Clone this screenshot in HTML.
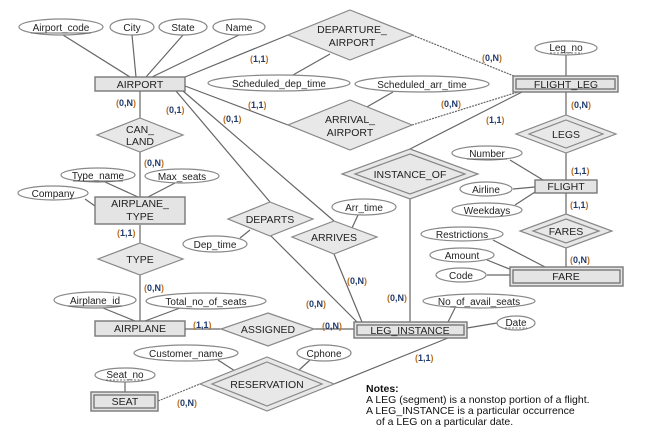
<!DOCTYPE html>
<html><head><meta charset="utf-8"><style>
html,body{margin:0;padding:0;background:#fff;}
svg{display:block;}
text{font-family:"Liberation Sans",Arial,sans-serif;}
.e{fill:#fff;stroke:#888;stroke-width:1.2}
.r{fill:#e4e4e4;stroke:#777;stroke-width:1.4}
.d{fill:#e8e8e8;stroke:#888;stroke-width:1.2}
.l{stroke:#666;stroke-width:1.2;fill:none}
.u{stroke:#444;stroke-width:0.8}
.t{font-size:10.5px;fill:#222;text-anchor:middle}
.at{font-size:10px;fill:#222;text-anchor:middle}
.c{font-size:9px;fill:#1f3a6e;font-weight:bold}
.c tspan{fill:#c07020}
.n{font-size:10.5px;fill:#111}
</style></head><body>
<svg width="660" height="442" viewBox="0 0 660 442" xmlns="http://www.w3.org/2000/svg">
<g class="l">
<line x1="63" y1="35" x2="130" y2="77"/>
<line x1="132" y1="35" x2="136" y2="77"/>
<line x1="183" y1="35" x2="146" y2="77"/>
<line x1="239" y1="35" x2="152" y2="77"/>
<line x1="185" y1="77" x2="288" y2="35"/>
<line x1="412" y1="35" x2="514" y2="76" stroke-dasharray="2,1"/>
<line x1="293" y1="75" x2="330" y2="54"/>
<line x1="566" y1="55" x2="566" y2="76"/>
<line x1="393" y1="92" x2="365" y2="108"/>
<line x1="412" y1="125" x2="518" y2="92" stroke-dasharray="2,1"/>
<line x1="185" y1="86" x2="288" y2="125"/>
<line x1="140" y1="91" x2="140" y2="197"/>
<line x1="105" y1="182" x2="138" y2="197"/>
<line x1="175" y1="183" x2="148" y2="197"/>
<line x1="85" y1="199" x2="95" y2="206"/>
<line x1="140" y1="225" x2="140" y2="321"/>
<line x1="103" y1="308" x2="135" y2="321"/>
<line x1="180" y1="308" x2="145" y2="321"/>
<line x1="185" y1="329" x2="221" y2="329"/>
<line x1="314" y1="329" x2="355" y2="329"/>
<line x1="218" y1="360" x2="235" y2="371"/>
<line x1="310" y1="360" x2="298" y2="371"/>
<line x1="125" y1="382" x2="125" y2="392"/>
<line x1="158" y1="401" x2="200" y2="384" stroke-dasharray="2,1"/>
<line x1="448" y1="338" x2="334" y2="384"/>
<line x1="455" y1="308" x2="448" y2="322"/>
<line x1="467" y1="328" x2="497" y2="323"/>
<line x1="493" y1="240" x2="545" y2="267"/>
<line x1="487" y1="260" x2="512" y2="270"/>
<line x1="487" y1="275" x2="510" y2="275"/>
<line x1="566" y1="92" x2="566" y2="267"/>
<line x1="510" y1="160" x2="543" y2="180"/>
<line x1="513" y1="189" x2="535" y2="187"/>
<line x1="515" y1="205" x2="535" y2="192"/>
<line x1="522" y1="92" x2="410" y2="149"/>
<line x1="410" y1="199" x2="410" y2="322"/>
<line x1="240" y1="238" x2="250" y2="230"/>
<line x1="176" y1="91" x2="270" y2="202"/>
<line x1="271" y1="236" x2="357" y2="322"/>
<line x1="183" y1="91" x2="334" y2="221"/>
<line x1="358" y1="215" x2="352" y2="228"/>
<line x1="334" y1="254" x2="362" y2="322"/>
</g>
<ellipse class="e" cx="61" cy="27" rx="42" ry="8"/><text class="at" x="61" y="31">Airport_code</text><line class="u" x1="31" y1="33" x2="91" y2="33"/>
<ellipse class="e" cx="132" cy="27" rx="22" ry="8"/><text class="at" x="132" y="31">City</text>
<ellipse class="e" cx="183" cy="27" rx="24" ry="8"/><text class="at" x="183" y="31">State</text>
<ellipse class="e" cx="239" cy="27" rx="26" ry="8"/><text class="at" x="239" y="31">Name</text>
<ellipse class="e" cx="279" cy="83" rx="71" ry="8"/><text class="at" x="279" y="87">Scheduled_dep_time</text>
<ellipse class="e" cx="422" cy="84" rx="67" ry="8"/><text class="at" x="422" y="88">Scheduled_arr_time</text>
<ellipse class="e" cx="566" cy="48" rx="31" ry="7"/><text class="at" x="566" y="51">Leg_no</text><line class="u" x1="550" y1="53" x2="582" y2="53" stroke-dasharray="2,1.5"/>
<ellipse class="e" cx="98" cy="175" rx="37" ry="7"/><text class="at" x="98" y="179">Type_name</text><line class="u" x1="73" y1="181" x2="123" y2="181"/>
<ellipse class="e" cx="182" cy="176" rx="37" ry="7"/><text class="at" x="182" y="180">Max_seats</text>
<ellipse class="e" cx="53" cy="193" rx="35" ry="7"/><text class="at" x="53" y="197">Company</text>
<ellipse class="e" cx="95" cy="300" rx="41" ry="8"/><text class="at" x="95" y="304">Airplane_id</text><line class="u" x1="68" y1="306" x2="122" y2="306"/>
<ellipse class="e" cx="206" cy="301" rx="60" ry="8"/><text class="at" x="206" y="305">Total_no_of_seats</text>
<ellipse class="e" cx="186" cy="353" rx="52" ry="8"/><text class="at" x="186" y="357">Customer_name</text>
<ellipse class="e" cx="324" cy="353" rx="27" ry="8"/><text class="at" x="324" y="357">Cphone</text>
<ellipse class="e" cx="125" cy="375" rx="30" ry="7"/><text class="at" x="125" y="378">Seat_no</text><line class="u" x1="106" y1="380" x2="144" y2="380" stroke-dasharray="2,1.5"/>
<ellipse class="e" cx="479" cy="301" rx="56" ry="7"/><text class="at" x="479" y="305">No_of_avail_seats</text>
<ellipse class="e" cx="516" cy="323" rx="19" ry="7"/><text class="at" x="516" y="326">Date</text><line class="u" x1="505" y1="328" x2="527" y2="328" stroke-dasharray="2,1.5"/>
<ellipse class="e" cx="462" cy="234" rx="41" ry="7"/><text class="at" x="462" y="238">Restrictions</text>
<ellipse class="e" cx="462" cy="255" rx="32" ry="7"/><text class="at" x="462" y="259">Amount</text>
<ellipse class="e" cx="461" cy="275" rx="25" ry="7"/><text class="at" x="461" y="279">Code</text>
<ellipse class="e" cx="487" cy="153" rx="35" ry="7"/><text class="at" x="487" y="157">Number</text><line class="u" x1="467" y1="159" x2="507" y2="159"/>
<ellipse class="e" cx="486" cy="189" rx="26" ry="7"/><text class="at" x="486" y="193">Airline</text>
<ellipse class="e" cx="487" cy="210" rx="35" ry="7"/><text class="at" x="487" y="214">Weekdays</text>
<ellipse class="e" cx="215" cy="244" rx="32" ry="8"/><text class="at" x="215" y="248">Dep_time</text>
<ellipse class="e" cx="364" cy="207" rx="32" ry="8"/><text class="at" x="364" y="211">Arr_time</text>
<polygon class="d" points="350,10 413,35 350,60 288,35"/><text class="t" x="352" y="33">DEPARTURE_</text><text class="t" x="352" y="46">AIRPORT</text>
<polygon class="d" points="350,100 412,125 350,150 288,125"/><text class="t" x="350" y="123">ARRIVAL_</text><text class="t" x="350" y="136">AIRPORT</text>
<polygon class="d" points="140,118 183,135 140,152 97,135"/><text class="t" x="140" y="133">CAN_</text><text class="t" x="140" y="145">LAND</text>
<polygon class="d" points="140,243 183,259 140,275 98,259"/><text class="t" x="140" y="263">TYPE</text>
<polygon class="d" points="268,313 314,329 268,346 221,329"/><text class="t" x="268" y="333">ASSIGNED</text>
<polygon class="d" points="270,202 313,219 270,236 228,219"/><text class="t" x="270" y="223">DEPARTS</text>
<polygon class="d" points="334,221 377,237 334,254 292,237"/><text class="t" x="334" y="241">ARRIVES</text>
<polygon class="d" points="267,357 334,384 267,411 200,384"/><polygon class="d" points="267,362 322,384 267,406 212,384"/><text class="t" x="267" y="388">RESERVATION</text>
<polygon class="d" points="410,149 478,174 410,199 342,174"/><polygon class="d" points="410,154 465,174 410,194 355,174"/><text class="t" x="410" y="178">INSTANCE_OF</text>
<polygon class="d" points="566,115 616,134 566,153 516,134"/><polygon class="d" points="566,120 603,134 566,148 529,134"/><text class="t" x="566" y="138">LEGS</text>
<polygon class="d" points="566,214 612,231 566,248 520,231"/><polygon class="d" points="566,219 599,231 566,243 533,231"/><text class="t" x="566" y="235">FARES</text>
<rect class="r" x="95" y="77" width="90" height="14"/><text class="t" x="140" y="88">AIRPORT</text>
<rect class="r" x="95" y="197" width="90" height="27"/><text class="t" x="140" y="207">AIRPLANE_</text><text class="t" x="140" y="220">TYPE</text>
<rect class="r" x="95" y="321" width="90" height="15"/><text class="t" x="140" y="332">AIRPLANE</text>
<rect class="r" x="535" y="180" width="62" height="13"/><text class="t" x="566" y="190">FLIGHT</text>
<rect class="r" x="513" y="76" width="105" height="16"/><rect class="r" x="516" y="79" width="99" height="10"/><text class="t" x="566" y="88">FLIGHT_LEG</text>
<rect class="r" x="354" y="322" width="113" height="16"/><rect class="r" x="357" y="325" width="107" height="10"/><text class="t" x="410" y="334">LEG_INSTANCE</text>
<rect class="r" x="510" y="267" width="113" height="19"/><rect class="r" x="513" y="270" width="107" height="13"/><text class="t" x="566" y="280">FARE</text>
<rect class="r" x="91" y="392" width="67" height="19"/><rect class="r" x="94" y="395" width="61" height="13"/><text class="t" x="125" y="405">SEAT</text>
<text class="c" x="250" y="62"><tspan>(</tspan>1,1<tspan>)</tspan></text>
<text class="c" x="482" y="61"><tspan>(</tspan>0,N<tspan>)</tspan></text>
<text class="c" x="248" y="108"><tspan>(</tspan>1,1<tspan>)</tspan></text>
<text class="c" x="441" y="107"><tspan>(</tspan>0,N<tspan>)</tspan></text>
<text class="c" x="116" y="106"><tspan>(</tspan>0,N<tspan>)</tspan></text>
<text class="c" x="166" y="113"><tspan>(</tspan>0,1<tspan>)</tspan></text>
<text class="c" x="223" y="122"><tspan>(</tspan>0,1<tspan>)</tspan></text>
<text class="c" x="144" y="166"><tspan>(</tspan>0,N<tspan>)</tspan></text>
<text class="c" x="117" y="236"><tspan>(</tspan>1,1<tspan>)</tspan></text>
<text class="c" x="144" y="291"><tspan>(</tspan>0,N<tspan>)</tspan></text>
<text class="c" x="193" y="328"><tspan>(</tspan>1,1<tspan>)</tspan></text>
<text class="c" x="322" y="329"><tspan>(</tspan>0,N<tspan>)</tspan></text>
<text class="c" x="306" y="307"><tspan>(</tspan>0,N<tspan>)</tspan></text>
<text class="c" x="347" y="284"><tspan>(</tspan>0,N<tspan>)</tspan></text>
<text class="c" x="387" y="301"><tspan>(</tspan>0,N<tspan>)</tspan></text>
<text class="c" x="415" y="361"><tspan>(</tspan>1,1<tspan>)</tspan></text>
<text class="c" x="177" y="406"><tspan>(</tspan>0,N<tspan>)</tspan></text>
<text class="c" x="571" y="108"><tspan>(</tspan>0,N<tspan>)</tspan></text>
<text class="c" x="486" y="123"><tspan>(</tspan>1,1<tspan>)</tspan></text>
<text class="c" x="571" y="174"><tspan>(</tspan>1,1<tspan>)</tspan></text>
<text class="c" x="570" y="208"><tspan>(</tspan>1,1<tspan>)</tspan></text>
<text class="c" x="570" y="263"><tspan>(</tspan>0,N<tspan>)</tspan></text>
<text class="n" x="366" y="392" font-weight="bold">Notes:</text>
<text class="n" x="366" y="403">A LEG (segment) is a nonstop portion of a flight.</text>
<text class="n" x="366" y="414">A LEG_INSTANCE is a particular occurrence</text>
<text class="n" x="376" y="425">of a LEG on a particular date.</text>
</svg>
</body></html>
